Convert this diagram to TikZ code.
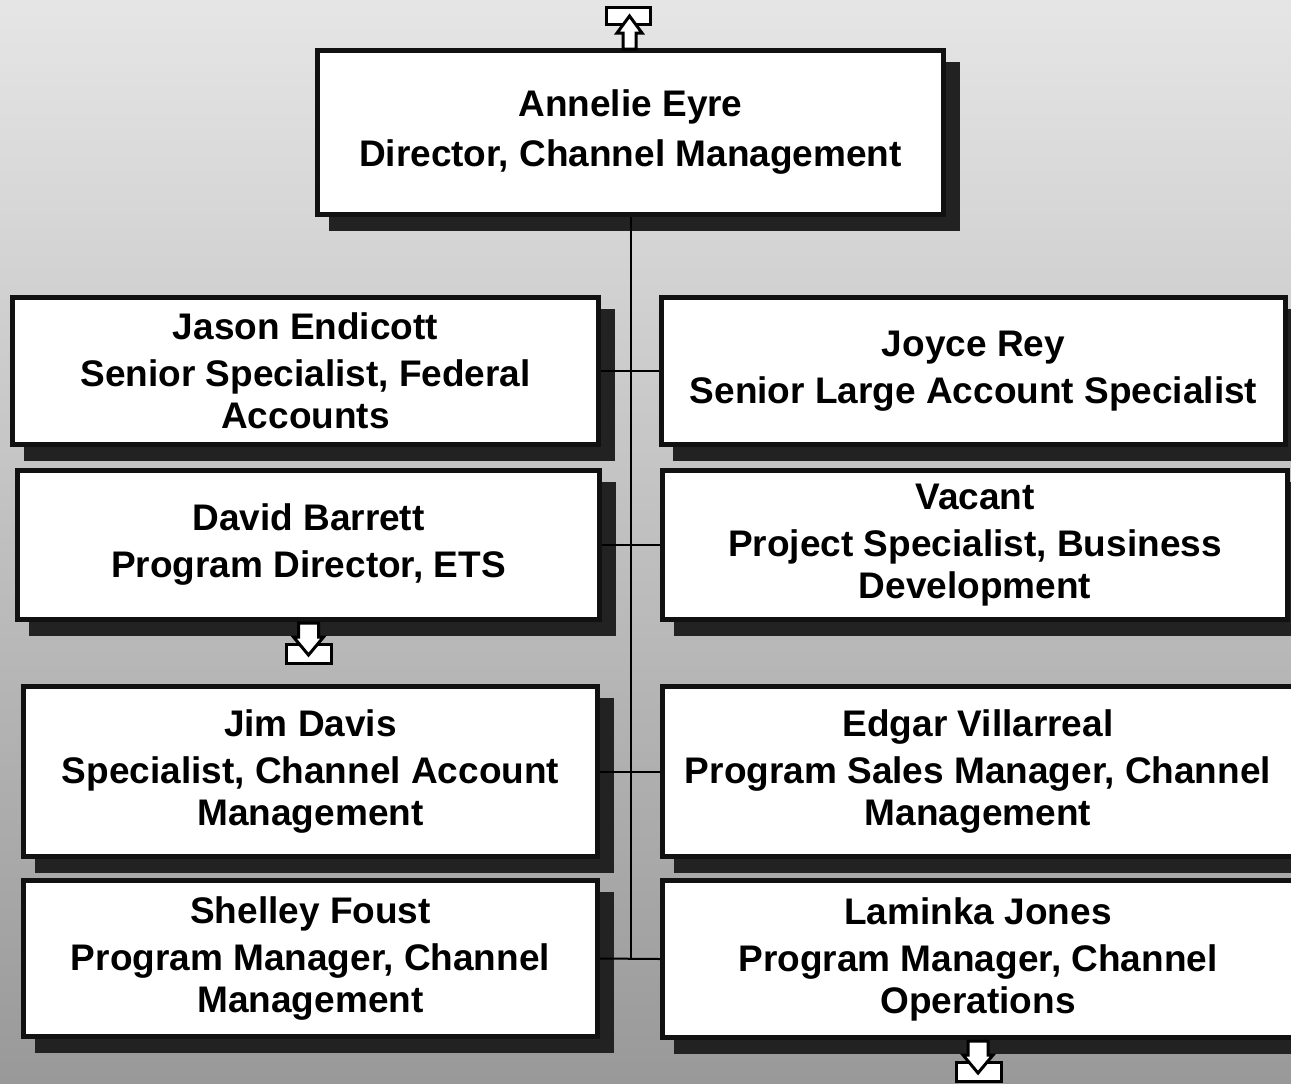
\documentclass[tikz,border=0pt]{standalone}
\usepackage{fontspec}
\setmainfont{Liberation Sans}
\usepackage{tikz}
\usetikzlibrary{positioning}

\definecolor{boxline}{HTML}{111111}
\definecolor{boxshadow}{HTML}{222222}

\begin{document}
\begin{tikzpicture}[
    x=0.5pt, y=-0.5pt,
    font=\bfseries\fontsize{18.5}{21}\selectfont,
    person/.style={rectangle, draw=boxline, fill=white, line width=2.5pt, align=center, inner sep=0pt,
        preaction={draw=boxshadow, fill=boxshadow, line width=2.5pt, transform canvas={shift={(7pt,-7pt)}}}},
    link/.style={draw=black, line width=1pt},
    iconbox/.style={draw=black, fill=white, line width=1.5pt},
    iconarrow/.style={draw=black, fill=white, line width=1.5pt, line join=miter}
]
    % Background and frame
    \useasboundingbox (0,0) rectangle (1291,1083);
    \clip (0,0) rectangle (1291,1083);
    \shade [top color=black!10, bottom color=black!40] (0,0) rectangle (1291,1083);

    % Director
    \node [person, minimum width=313pt, minimum height=82pt] (eyre) at (630.5,132.5)
        {Annelie Eyre\\[4pt] Director, Channel Management};

    % Left column
    \node [person, minimum width=293pt, minimum height=73.5pt] (jason) at (305.5,371)
        {Jason Endicott\\[2.5pt] Senior Specialist, Federal\\ Accounts};
    \node [person, minimum width=291pt, minimum height=74.5pt] (barrett) at (308.5,545)
        {David Barrett\\[2.5pt] Program Director, ETS};
    \node [person, minimum width=287pt, minimum height=85pt] (davis) at (310.5,771.5)
        {Jim Davis\\[2.5pt] Specialist, Channel Account\\ Management};
    \node [person, minimum width=287pt, minimum height=78pt] (foust) at (310.5,958.5)
        {Shelley Foust\\[2.5pt] Program Manager, Channel\\ Management};

    % Right column
    \node [person, minimum width=312pt, minimum height=73.5pt] (joyce) at (973.5,371)
        {Joyce Rey\\[2.5pt] Senior Large Account Specialist};
    \node [person, minimum width=312.5pt, minimum height=74.5pt] (vacant) at (975,545)
        {Vacant\\[2.5pt] Project Specialist, Business\\ Development};
    \node [person, minimum width=315.5pt, minimum height=85pt] (villarreal) at (978,771.5)
        {Edgar Villarreal\\[2.5pt] Program Sales Manager, Channel\\ Management};
    \node [person, minimum width=315.5pt, minimum height=78.5pt] (jones) at (978,959)
        {Laminka Jones\\[2.5pt] Program Manager, Channel\\ Operations};

    % Connectors
    \draw [link] (eyre.south) -- (eyre.south |- foust.east);
    \foreach \l/\r in {jason/joyce, barrett/vacant, davis/villarreal, foust/jones} {
        \draw [link] (\l.east) -- (\r.west);
    }

    % Up marker above the director
    \begin{scope}[shift={(eyre.north)}]
        \draw [iconbox] (-24,-40.5) rectangle (20,-23.5);
        \draw [iconarrow] (-7.5,1) -- (-7.5,-15) -- (-13.5,-15) -- (-1,-32) -- (11.5,-15) -- (5.5,-15) -- (5.5,1) -- cycle;
    \end{scope}

    % Down markers below the boxes with further reports
    \foreach \b in {barrett, jones} {
        \begin{scope}[shift={(\b.south)}]
            \draw [iconbox] (-22,22.5) rectangle (23,41.5);
            \draw [iconarrow] (-10,1) -- (-10,15) -- (-15,15) -- (0,33) -- (15,15) -- (10,15) -- (10,1) -- cycle;
        \end{scope}
    }
\end{tikzpicture}
\end{document}
